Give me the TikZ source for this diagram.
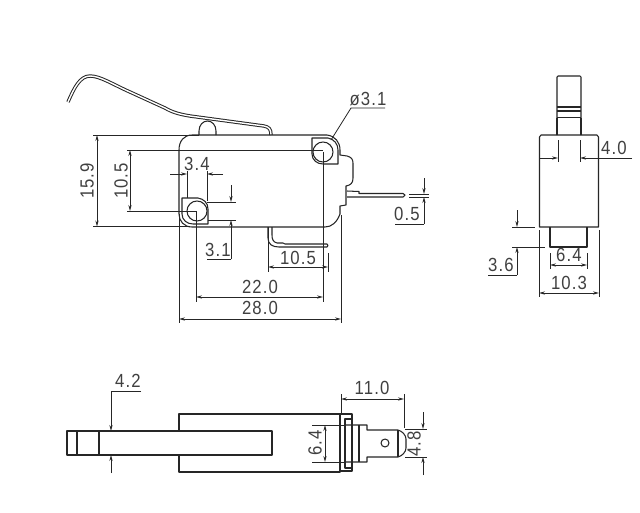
\documentclass[tikz,border=0pt]{standalone}
\usepackage{fontspec}
\setmainfont[LetterSpace=6,FakeStretch=0.88]{Liberation Sans}
\usetikzlibrary{arrows.meta}
\definecolor{ink}{HTML}{262626}
\definecolor{txt}{HTML}{404040}
\tikzset{
  part/.style={draw=ink,line width=1.05pt,line join=round},
  heavy/.style={draw=ink,line width=1.8pt},
  dbl/.style={draw=ink,line width=1pt,double=white,double distance=1.4pt,line join=round},
  dim/.style={draw=ink,line width=0.8pt},
  tip/.style={dim,-{Stealth[length=6pt,width=3.2pt]}},
  tips/.style={dim,{Stealth[length=6pt,width=3.2pt]}-{Stealth[length=6pt,width=3.2pt]}},
  lab/.style={text=txt,font=\fontsize{19}{19}\selectfont,inner sep=0pt},
  vlab/.style={lab,rotate=90}
}
\begin{document}
\begin{tikzpicture}[x=1pt,y=-1pt]
\useasboundingbox (0,0) rectangle (640,512);
\fill[white] (0,0) rectangle (640,512);
% --- front view: lever
\draw[dbl] (68,102) .. controls (74,88) and (80,76) .. (90,76) .. controls (100,76) and (112,84) .. (130,92) -- (165,108) .. controls (172,112) and (178,114) .. (190,116) -- (264,126) .. controls (269,127) and (271,129) .. (271,135);
\draw[part] (199,135) -- (199,131) .. controls (199,125) and (203,121) .. (207.5,121) .. controls (212,121) and (216,125) .. (216,131) -- (216,135);
% body
\draw[part] (192,135) -- (327,135) .. controls (335,136) and (340,142) .. (340,150) -- (340,155) -- (347,156) .. controls (351,157) and (353,159) .. (353,163) -- (353,178) .. controls (353,183) and (351,185) .. (346,186) -- (346,205) -- (340,206) -- (340,214) .. controls (337,222) and (332,227) .. (325,227) -- (192,227) .. controls (184,227) and (179,221) .. (179,214) -- (179,150) .. controls (179,141) and (184,135) .. (192,135);
% right terminal
\draw[part] (347,191) -- (359,191.5) -- (359,193.5) -- (403,193.5) -- (405,195) -- (403,197) -- (347,197);
% lower terminal
\draw[part] (268,227) -- (268,238) .. controls (268,244) and (272,247) .. (279,247) -- (327,247) -- (328,245.5) -- (327,244) -- (285,244) -- (283,243) -- (277,243) .. controls (273,242) and (272,239) .. (272,235) -- (272,227);
% holes
\draw[part] (312,138) -- (328,138) .. controls (334,139) and (338,144) .. (338,150) -- (338,164) -- (323,164) .. controls (317,164) and (312,160) .. (312,154) -- cycle;
\draw[part] (323,152) circle (10);
\draw[part] (182,198) -- (198,198) .. controls (204,199) and (208,203) .. (208,209) -- (208,224) -- (193,224) .. controls (187,224) and (182,220) .. (182,214) -- cycle;
\draw[part] (197,211) circle (10);
% front view dimensions
\draw[dim] (93,135) -- (199,135);
\draw[dim] (93,226.5) -- (190,226.5);
\draw[tips] (97,135) -- (97,226.5);
\node[vlab] (t159) at (87,181) {15.9};
\draw[dim] (127,150) -- (323,150);
\draw[dim] (127,211) -- (197,211);
\draw[tips] (130,150) -- (130,211);
\node[vlab] (t105a) at (121,181) {10.5};
\draw[dim] (187,171) -- (187,198);
\draw[dim] (207,171) -- (207,201);
\draw[tip] (170,174) -- (187,174);
\draw[tip] (223,174) -- (207,174);
\node[lab] (t34) at (197,164) {3.4};
\draw[dim] (207,202) -- (236,202);
\draw[dim] (208,220) -- (236,220);
\draw[tip] (231,185) -- (231,202);
\draw[tip] (231,259) -- (231,220);
\draw[dim] (231,259) -- (207,259);
\node[lab] (t31b) at (218,250) {3.1};
\draw[dim] (268,227) -- (268,272);
\draw[dim] (328,253) -- (328,272);
\draw[tips] (268,267) -- (328,267);
\node[lab] (t105b) at (298,258) {10.5};
\draw[dim] (196,211) -- (196,302);
\draw[dim] (323,152) -- (323,302);
\draw[tips] (196,297) -- (323,297);
\node[lab] (t220) at (260,287) {22.0};
\draw[dim] (179,214) -- (179,323);
\draw[dim] (341,215) -- (341,323);
\draw[tips] (179,319) -- (341,319);
\node[lab] (t280) at (260,308) {28.0};
\draw[dim] (331,140) -- (351,108) -- (385,108);
\node[lab] (tphi) at (368,99) {ø3.1};
\draw[dim] (409,194) -- (429,194);
\draw[dim] (409,197) -- (429,197);
\draw[tip] (424,178) -- (424,194);
\draw[tip] (424,224) -- (424,197);
\draw[dim] (424,224) -- (395,224);
\node[lab] (t05) at (407,214) {0.5};
% --- side view
\draw[part] (557,135) -- (557,77) -- (558,76) -- (580,76) -- (581,77) -- (581,135);
\draw[part] (557,107) -- (581,107) (557,111) -- (581,111) (557,117.5) -- (581,117.5);
\draw[part] (539.5,227) -- (539.5,137) -- (541,135) -- (597,135) -- (598.5,137) -- (598.5,227) -- cycle;
\draw[heavy] (539.5,137) -- (539.5,165) (598.5,137) -- (598.5,165);
\draw[heavy] (539.5,198) -- (539.5,226) (598.5,198) -- (598.5,226);
\draw[heavy] (557,118) -- (557,135) (581,118) -- (581,135);
\draw[part] (550,227) -- (550,247) -- (587,247) -- (587,227);
\draw[dim] (558,140) -- (558,162);
\draw[dim] (580,140) -- (580,162);
\draw[tip] (540,158) -- (558,158);
\draw[tip] (632,158) -- (580,158);
\node[lab] (t40) at (614,148) {4.0};
\draw[dim] (512,227) -- (535,227);
\draw[dim] (512,247) -- (545,247);
\draw[tip] (517,210) -- (517,227);
\draw[tip] (517,275) -- (517,247);
\draw[dim] (517,275) -- (488,275);
\node[lab] (t36) at (501,265) {3.6};
\draw[dim] (550,253) -- (550,269);
\draw[dim] (587,253) -- (587,269);
\draw[tips] (550,265) -- (587,265);
\node[lab] (t64a) at (569,255) {6.4};
\draw[dim] (539,230) -- (539,297);
\draw[dim] (599,230) -- (599,297);
\draw[tips] (539,293) -- (599,293);
\node[lab] (t103) at (569,283) {10.3};
% --- bottom view
\draw[part] (179,431) -- (179,414) -- (340,414) -- (340,472) -- (179,472) -- (179,455);
\draw[heavy] (182,414) -- (208,414) (312,414) -- (338,414);
\draw[heavy] (182,472) -- (208,472) (312,472) -- (338,472);
\draw[part] (67,431) rectangle (272,455);
\draw[part] (77,431) -- (77,455) (99,431) -- (99,455);
\draw[part] (340,414) -- (352,414) -- (352,425) (352,462) -- (352,471) -- (340,471);
\draw[part] (345,425) -- (345,419) -- (352,419) (345,425) -- (345,462) (345,462) -- (345,468) -- (352,468);
\draw[part] (345,425) -- (367,425) -- (367,430) -- (398,430) .. controls (402,431) and (406,435) .. (406,439) -- (406,448) .. controls (406,452) and (402,456) .. (398,457) -- (367,457) -- (367,462) -- (345,462);
\draw[part] (352,425) -- (352,462) (359,425) -- (359,462) (398,430) -- (398,457);
\draw[part] (385,443) circle (4);
\draw[dim] (141,391) -- (111,391);
\draw[tip] (111,391) -- (111,431);
\draw[tip] (111,473) -- (111,455);
\node[lab] (t42) at (128,381) {4.2};
\draw[dim] (341,394) -- (341,413);
\draw[dim] (404,394) -- (404,428);
\draw[tips] (341,399) -- (404,399);
\node[lab] (t110) at (372,388) {11.0};
\draw[dim] (312,425) -- (345,425);
\draw[dim] (312,462) -- (345,462);
\draw[tips] (325,425) -- (325,462);
\node[vlab] (t64b) at (315,443) {6.4};
\draw[dim] (405,429) -- (427,429);
\draw[dim] (405,457) -- (427,457);
\draw[tip] (423,412) -- (423,429);
\draw[tip] (423,475) -- (423,457);
\node[vlab] (t48) at (414,444) {4.8};
\end{tikzpicture}
\end{document}
